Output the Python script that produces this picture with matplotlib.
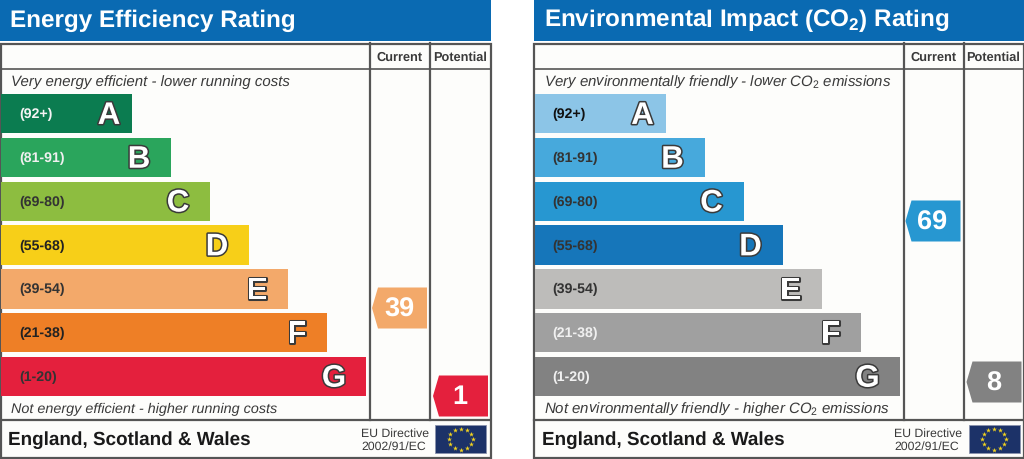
import numpy as np
import matplotlib
matplotlib.use('Agg')
import matplotlib.pyplot as plt
import matplotlib.patheffects as pe
from matplotlib.patches import Polygon, Rectangle

plt.rcParams['font.family'] = ['Liberation Sans', 'DejaVu Sans']
plt.rcParams['mathtext.fontset'] = 'custom'
plt.rcParams['mathtext.rm'] = 'Liberation Sans'
plt.rcParams['mathtext.it'] = 'Liberation Sans:italic'
plt.rcParams['mathtext.bf'] = 'Liberation Sans:bold'
plt.rcParams['text.hinting'] = 'no_hinting'

# data
bands = ['A', 'B', 'C', 'D', 'E', 'F', 'G']
ranges = ['(92+)', '(81-91)', '(69-80)', '(55-68)', '(39-54)', '(21-38)', '(1-20)']
bar_lengths = [131, 170, 209, 248, 287, 326, 365]
letter_inset = [22, 31, 31, 31, 30, 29, 31]

energy_colors = ['#0b7c50', '#2aa55c', '#8dbd40', '#f7cf18', '#f3a96a', '#ee7f26', '#e4203d']
energy_range_colors = ['#f4f4f4', '#f0f0f0', '#333333', '#222222', '#333333', '#222222', '#333333']
energy_title = 'Energy Efficiency Rating'
energy_top = 'Very energy efficient - lower running costs'
energy_bottom = 'Not energy efficient - higher running costs'
energy_current = 39
energy_potential = 1
energy_current_y = 309
energy_potential_y = 397
energy_current_color = '#f3a96a'
energy_potential_color = '#e4203d'

co2_colors = ['#8cc5e7', '#47a9dc', '#2797d1', '#1676ba', '#bdbcba', '#a0a0a0', '#828282']
co2_range_colors = ['#111111', '#333333', '#333333', '#333333', '#333333', '#f0f0f0', '#f0f0f0']
co2_title = 'Environmental Impact (CO$_{\\mathbf{2}}$) Rating'
co2_top = 'Very environmentally friendly - lower CO$_{\\mathit{2}}$ emissions'
co2_bottom = 'Not environmentally friendly - higher CO$_{\\mathit{2}}$ emissions'
co2_current = 69
co2_potential = 8
co2_current_y = 222
co2_potential_y = 383
co2_current_color = '#2797d1'
co2_potential_color = '#828282'

footer = 'England, Scotland & Wales'
directive = 'EU Directive\n2002/91/EC'

LINE = '#555555'
TEXT = '#3a3a3a'
BLUE = '#0a6ab2'
PAPER = '#fdfdfb'


def pointer(ax, x0, yc, value, color):
    # arrow box pointing left, 55 wide and 41 tall
    pts = [(x0, yc), (x0 + 6, yc - 20.5), (x0 + 55, yc - 20.5), (x0 + 55, yc + 20.5), (x0 + 6, yc + 20.5)]
    ax.add_patch(Polygon(pts, closed=True, facecolor=color, edgecolor='none', zorder=3))
    ax.text(x0 + 27, yc + 0.5, str(value), color='white', fontsize=19.5, fontweight='bold',
            ha='center', va='center', zorder=4)


def eu_flag(ax, x0):
    ax.add_patch(Rectangle((x0, 426), 51, 28, facecolor='#1c3268', edgecolor='#8a93ad', linewidth=0.6, zorder=3))
    ang = np.arange(12) * np.pi / 6
    ax.scatter(x0 + 25.5 + 12 * np.cos(ang), 440 + 10.5 * np.sin(ang), marker='*', s=14,
               color='#f2d31f', linewidths=0, zorder=4)


def panel(ax, x0, width, title, top, bottom, bottom_size, colors, range_colors,
          current, current_y, current_color, potential, potential_y, potential_color):
    x1 = x0 + width
    col1 = x0 + 370
    col2 = x0 + 430
    ax.add_patch(Rectangle((x0, 0), width + 1, 41.5, facecolor=BLUE, edgecolor='none'))
    ax.add_patch(Rectangle((x0 + 0.5, 44.5), width, 414.5, facecolor=PAPER, edgecolor=LINE, linewidth=1.6))
    ax.plot([x0, x1], [69.5, 69.5], color=LINE, lw=1.2)
    ax.plot([x0, x1], [421, 421], color=LINE, lw=1.6)
    ax.plot([col1, col1], [44, 421], color=LINE, lw=1.6)
    ax.plot([col2, col2], [44, 421], color=LINE, lw=1.6)

    ax.text(x0 + 10.5, 21, title, color='white', fontsize=17.45, fontweight='bold', va='center', ha='left')
    ax.text((col1 + col2) / 2, 57.5, 'Current', color=TEXT, fontsize=9.2, fontweight='bold', ha='center', va='center')
    ax.text((col2 + x1) / 2, 57.5, 'Potential', color=TEXT, fontsize=9.2, fontweight='bold', ha='center', va='center')
    ax.text(x0 + 11, 82, top, color=TEXT, fontsize=10.85, style='italic', va='center')
    ax.text(x0 + 11, 409, bottom, color=TEXT, fontsize=bottom_size, style='italic', va='center')

    ys = 114.7 + 43.8 * np.arange(len(bands))
    ax.barh(ys, bar_lengths, height=39.5, left=x0 + 1, color=colors, edgecolor='none', zorder=2)
    for y, band, rng, length, inset, rc in zip(ys, bands, ranges, bar_lengths, letter_inset, range_colors):
        ax.text(x0 + 19, y, rng, color=rc, fontsize=10.2, fontweight='bold', va='center', zorder=3)
        ax.text(x0 + length - inset, y - 1, band, color='white', fontsize=22.5, fontweight='bold',
                ha='center', va='center_baseline', zorder=3,
                path_effects=[pe.withStroke(linewidth=2.2, foreground='#3a3a3a')])

    pointer(ax, col1 + 2, current_y, current, current_color)
    pointer(ax, col2 + 3, potential_y, potential, potential_color)

    ax.text(x0 + 8, 440.5, footer, color='#1a1a1a', fontsize=13.55, fontweight='bold', va='center')
    ax.text(x0 + 361, 440.5, directive, color=TEXT, fontsize=8.8, va='center', linespacing=1.25)
    eu_flag(ax, x0 + 435)


fig = plt.figure(figsize=(10.24, 4.6), dpi=100)
ax = fig.add_axes([0, 0, 1, 1])
ax.set_xlim(0, 1024)
ax.set_ylim(460, 0)
ax.axis('off')

panel(ax, 0, 490, energy_title, energy_top, energy_bottom, 10.35, energy_colors, energy_range_colors,
      energy_current, energy_current_y, energy_current_color,
      energy_potential, energy_potential_y, energy_potential_color)
panel(ax, 533.5, 489.5, co2_title, co2_top, co2_bottom, 10.85, co2_colors, co2_range_colors,
      co2_current, co2_current_y, co2_current_color,
      co2_potential, co2_potential_y, co2_potential_color)

fig.savefig('out.png', dpi=100)
